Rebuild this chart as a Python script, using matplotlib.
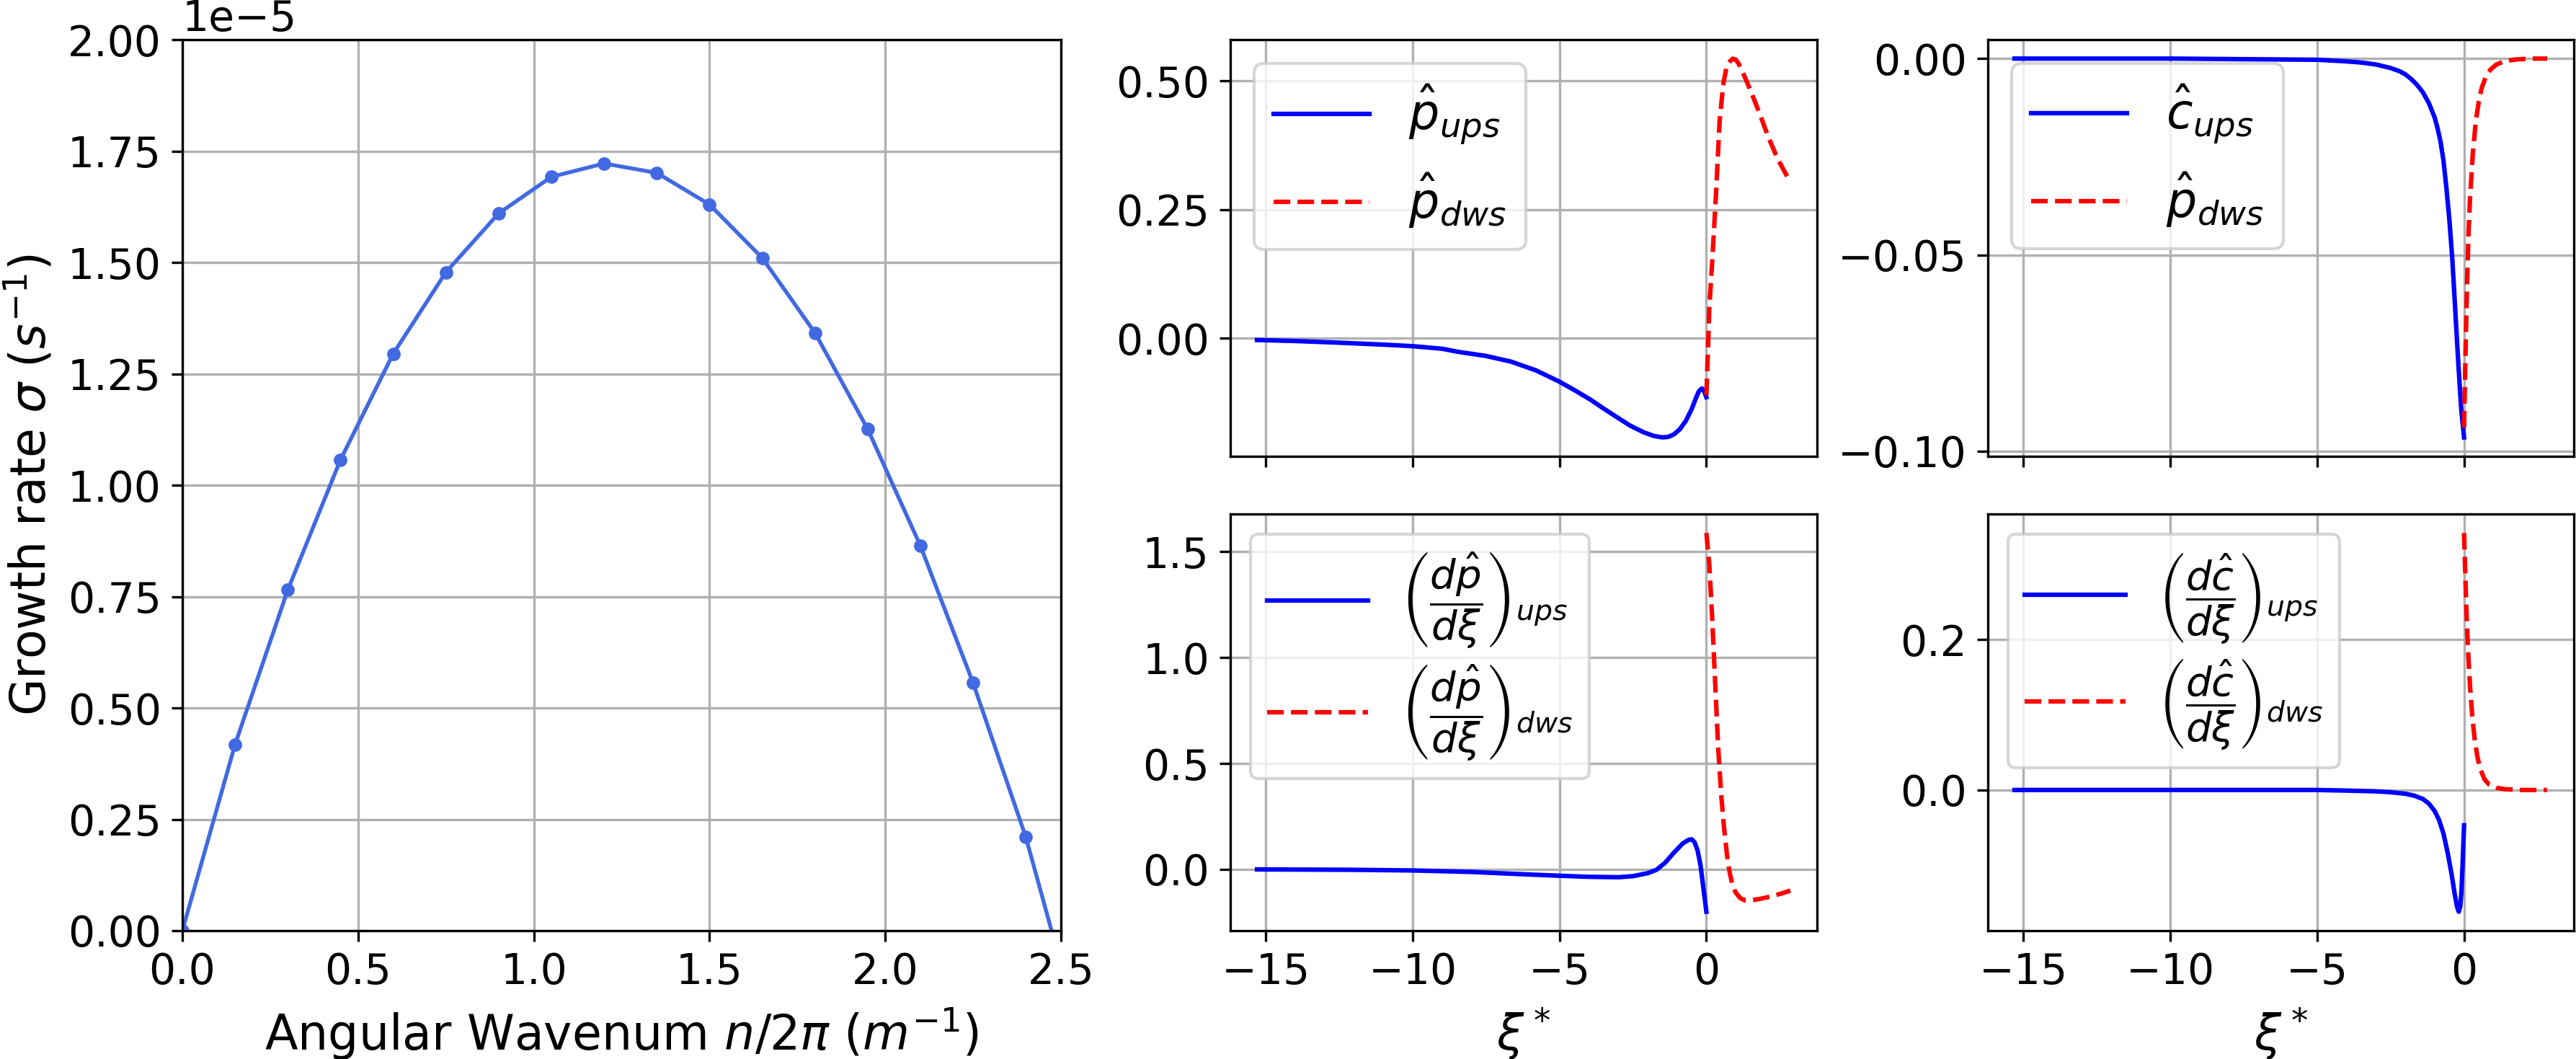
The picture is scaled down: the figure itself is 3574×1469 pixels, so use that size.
import matplotlib
matplotlib.use("Agg")
import matplotlib.pyplot as plt

matplotlib.rcParams.update({"font.family": "DejaVu Sans", "font.size": 14})

# growth rate vs wavenumber (sigma in units of 1e-5 s^-1)
wavenum = [0.0, 0.15, 0.30, 0.45, 0.60, 0.75, 0.90, 1.05, 1.20, 1.35, 1.50,
           1.65, 1.80, 1.95, 2.10, 2.25, 2.40, 2.55]
sigma = [0.0, 0.418, 0.765, 1.057, 1.295, 1.478, 1.610, 1.692, 1.722, 1.701,
         1.630, 1.510, 1.342, 1.126, 0.864, 0.556, 0.210, -0.22]

# pressure, upstream / downstream
xi_p_ups = [-15.3, -14, -12.6, -11, -10, -9, -8.45, -7.5, -6.65, -5.8, -5, -4.5,
            -3.94, -3.5, -3.04, -2.6, -2.14, -1.8, -1.5, -1.3, -1.1, -0.9, -0.7,
            -0.5, -0.35, -0.25, -0.15, -0.08, 0.0]
p_ups = [-0.003, -0.005, -0.008, -0.012, -0.015, -0.020, -0.026, -0.034, -0.045,
         -0.062, -0.084, -0.100, -0.119, -0.136, -0.153, -0.169, -0.182, -0.189,
         -0.192, -0.191, -0.186, -0.176, -0.160, -0.137, -0.115, -0.102, -0.097,
         -0.102, -0.114]
xi_p_dws = [0.0, 0.05, 0.1, 0.2, 0.33, 0.45, 0.57, 0.69, 0.81, 0.9, 1.0, 1.1,
            1.22, 1.4, 1.63, 1.9, 2.12, 2.44, 2.86]
p_dws = [-0.11, -0.03, 0.06, 0.150, 0.282, 0.421, 0.491, 0.528, 0.538, 0.543,
         0.541, 0.533, 0.519, 0.495, 0.463, 0.423, 0.389, 0.347, 0.303]

# concentration, upstream / downstream
xi_c_ups = [-15.3, -10, -5, -4, -3.5, -3, -2.5, -2.2, -2.0, -1.8, -1.6, -1.4,
            -1.2, -1.0, -0.9, -0.8, -0.7, -0.6, -0.5, -0.4, -0.3, -0.2, -0.1, 0.0]
c_ups = [0.0, 0.0, -0.0003, -0.0007, -0.0010, -0.0015, -0.0024, -0.0032, -0.0040,
         -0.0052, -0.0067, -0.0086, -0.0113, -0.0150, -0.0178, -0.0212, -0.026,
         -0.033, -0.041, -0.051, -0.064, -0.077, -0.089, -0.0965]
xi_pc_dws = [0.0, 0.05, 0.1, 0.15, 0.2, 0.3, 0.4, 0.5, 0.6, 0.75, 0.9, 1.1, 1.4,
             1.8, 2.3, 2.83]
pc_dws = [-0.094, -0.075, -0.058, -0.045, -0.036, -0.024, -0.016, -0.011,
          -0.0075, -0.0045, -0.0028, -0.0015, -0.0006, -0.0002, 0.0, 0.0]

# pressure gradient
xi_dp_ups = [-15.3, -12, -10, -8, -6.4, -5, -4, -3, -2.5, -2.0, -1.7, -1.4, -1.1,
             -0.8, -0.6, -0.5, -0.4, -0.3, -0.2, -0.1, 0.0]
dp_ups = [0.0, -0.002, -0.005, -0.012, -0.022, -0.030, -0.035, -0.037, -0.032,
          -0.018, -0.002, 0.032, 0.080, 0.123, 0.140, 0.142, 0.128, 0.090, 0.020,
          -0.090, -0.200]
xi_dp_dws = [0.0, 0.1, 0.2, 0.3, 0.4, 0.5, 0.6, 0.7, 0.8, 0.9, 1.0, 1.15, 1.3,
             1.5, 1.8, 2.2, 2.6, 2.86]
dp_dws = [1.589, 1.44, 1.18, 0.88, 0.58, 0.36, 0.20, 0.07, -0.02, -0.08, -0.11,
          -0.135, -0.146, -0.146, -0.140, -0.128, -0.112, -0.100]

# concentration gradient
xi_dc_ups = [-15.3, -5, -4, -3, -2.5, -2.0, -1.7, -1.4, -1.2, -1.0, -0.85, -0.7,
             -0.55, -0.42, -0.32, -0.24, -0.18, -0.13, -0.09, -0.05, 0.0]
dc_ups = [0.0, 0.0, -0.0008, -0.0018, -0.003, -0.005, -0.0075, -0.012, -0.018,
          -0.028, -0.040, -0.058, -0.085, -0.113, -0.138, -0.155, -0.162, -0.155,
          -0.136, -0.100, -0.047]
xi_dc_dws = [0.0, 0.04, 0.08, 0.13, 0.2, 0.28, 0.36, 0.45, 0.55, 0.7, 0.86, 1.1,
             1.4, 2.0, 2.82]
dc_dws = [0.342, 0.290, 0.240, 0.190, 0.140, 0.098, 0.068, 0.045, 0.028, 0.014,
          0.007, 0.003, 0.001, 0.0, 0.0]

W, H = 3574, 1469


def box(x0, y0, x1, y1):
    # pixel box (top-left origin) -> figure fraction
    return [x0 / W, (H - y1) / H, (x1 - x0) / W, (y1 - y0) / H]


fig = plt.figure(figsize=(W / 300, H / 300), dpi=300)

ax0 = fig.add_axes(box(253, 55, 1472, 1291))
ax0.plot(wavenum, [s * 1e-5 for s in sigma], "-o", color="royalblue",
         lw=1.3, ms=3.5)
ax0.set_xlim(0, 2.5)
ax0.set_ylim(0, 2e-5)
ax0.grid(True)
ax0.set_xlabel(r"Angular Wavenum $n/2\pi$ $(m^{-1})$", fontsize=16)
ax0.set_ylabel(r"Growth rate $\sigma$ $(s^{-1})$", fontsize=16)

ax1 = fig.add_axes(box(1707, 55, 2521, 633))
ax2 = fig.add_axes(box(2758, 55, 3571, 633))
ax3 = fig.add_axes(box(1707, 713, 2521, 1291), sharex=ax1)
ax4 = fig.add_axes(box(2758, 713, 3571, 1291), sharex=ax2)

panels = [
    (ax1, xi_p_ups, p_ups, xi_p_dws, p_dws,
     r"$\hat{p}_{ups}$", r"$\hat{p}_{dws}$"),
    (ax2, xi_c_ups, c_ups, xi_pc_dws, pc_dws,
     r"$\hat{c}_{ups}$", r"$\hat{p}_{dws}$"),
    (ax3, xi_dp_ups, dp_ups, xi_dp_dws, dp_dws,
     r"$\left(\dfrac{d\hat{p}}{d\xi}\right)_{ups}$",
     r"$\left(\dfrac{d\hat{p}}{d\xi}\right)_{dws}$"),
    (ax4, xi_dc_ups, dc_ups, xi_dc_dws, dc_dws,
     r"$\left(\dfrac{d\hat{c}}{d\xi}\right)_{ups}$",
     r"$\left(\dfrac{d\hat{c}}{d\xi}\right)_{dws}$"),
]

for ax, xu, yu, xd, yd, lab_u, lab_d in panels:
    ax.plot(xu, yu, "b-", lw=1.5, label=lab_u)
    ax.plot(xd, yd, "r--", lw=1.5, label=lab_d)
    ax.grid(True)

for ax in (ax1, ax2):
    ax.legend(loc="upper left", fontsize=16, labelspacing=0.5)
for ax in (ax3, ax4):
    ax.legend(loc="upper left", fontsize=13.5, labelspacing=0.3,
              handlelength=2.5)

ax1.set_yticks([0.0, 0.25, 0.5])
ax2.set_yticks([-0.10, -0.05, 0.0])
ax3.set_yticks([0.0, 0.5, 1.0, 1.5])
ax4.set_yticks([0.0, 0.2])
for ax in (ax1, ax2):
    ax.tick_params(labelbottom=False)
for ax in (ax3, ax4):
    ax.set_xticks([-15, -10, -5, 0])
    ax.set_xlabel(r"$\xi^*$", fontsize=16)

fig.savefig("out.png", dpi=300)
